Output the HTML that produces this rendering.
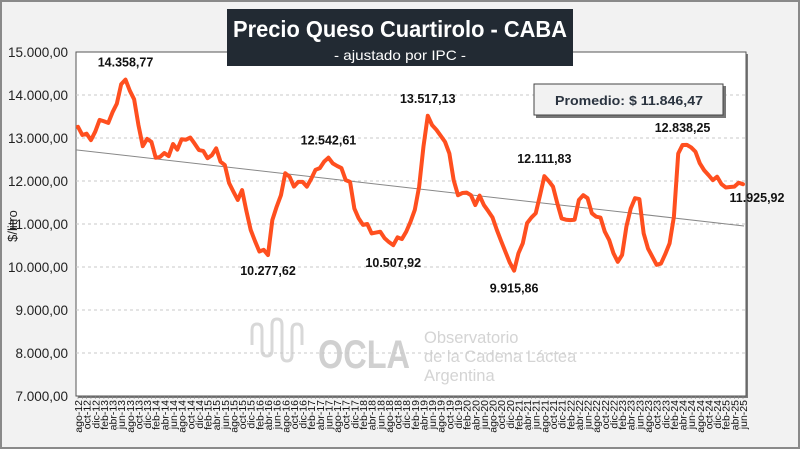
<!DOCTYPE html>
<html><head><meta charset="utf-8"><style>
html,body{margin:0;padding:0;}
body{width:800px;height:449px;overflow:hidden;background:#f2f2f2;font-family:"Liberation Sans",sans-serif;}
#wrap{position:relative;width:796px;height:445px;border:2px solid #8a8a8a;background:#f2f2f2;}
</style></head><body>
<div id="wrap">
<svg id="chart" width="800" height="449" style="position:absolute;left:-2px;top:-2px"></svg>
</div>
<script>
const months=['ene','feb','mar','abr','may','jun','jul','ago','sep','oct','nov','dic'];
const prices=[13260,13070,13100,12950,13150,13420,13390,13350,13600,13800,14250,14358.77,14100,13900,13300,12810,12980,12910,12540,12560,12650,12580,12860,12730,12970,12960,13010,12870,12720,12700,12530,12600,12760,12450,12370,11950,11750,11560,11790,11300,10860,10600,10360,10400,10277.62,11090,11400,11670,12180,12100,11870,11980,11980,11870,12050,12260,12300,12450,12542.61,12410,12350,12300,12020,11980,11360,11130,10980,11000,10780,10800,10820,10670,10580,10507.92,10690,10650,10820,11050,11330,11870,12800,13517.13,13300,13190,13050,12910,12640,12020,11670,11720,11730,11670,11440,11660,11440,11300,11150,10860,10600,10350,10100,9915.86,10320,10550,11020,11150,11250,11670,12111.83,12000,11870,11480,11130,11100,11090,11100,11560,11670,11600,11250,11170,11150,10820,10630,10320,10120,10280,10940,11360,11600,11580,10780,10430,10240,10050,10080,10300,10550,11170,12640,12838.25,12840,12780,12680,12410,12250,12140,12020,12100,11930,11850,11860,11870,11960,11925.92];
const yTicks=[7000,8000,9000,10000,11000,12000,13000,14000,15000];
const annoIdx=[11,44,58,73,81,101,108,140,154];
const annoText=['14.358,77','10.277,62','12.542,61','10.507,92','13.517,13','9.915,86','12.111,83','12.838,25','11.925,92'];
const annoDy=[-13,20,-13,22,-13,22,-13,-13,18];
const annoDx=[0,0,0,0,0,0,0,0,14];
const average='Promedio: $ 11.846,47';

const NS='http://www.w3.org/2000/svg';
const svg=document.getElementById('chart');
function el(t,a,p){const e=document.createElementNS(NS,t);for(const k in a)e.setAttribute(k,a[k]);(p||svg).appendChild(e);return e;}
const L=76,R=746,T=52,B=396,X0=78,X1=743;
const yS=v=>B-(v-7000)/8000*(B-T);
const xS=i=>X0+(X1-X0)*i/(prices.length-1);

const pa=el('rect',{x:L+2,y:T+2,width:R-L,height:B-T,fill:'#7a7a7a'});

const pb=el('rect',{x:L,y:T,width:R-L,height:B-T,fill:'#fff',stroke:'#555','stroke-width':1});


const wm=el('g',{fill:'#d4d4d4'});

el('path',{d:'M252 345 v-15 q0-6 5-6 t5 6 v20 q0 6 5 6 t5-6 v-25 q0-6 5-6 t5 6 v30 q0 6 5 6 t5-6 v-25 q0-6 5-6 t5 6 v15',fill:'none',stroke:'#d8d8d8','stroke-width':3},wm);
const t1=el('text',{x:318,y:368,'font-size':40,'font-weight':'bold',fill:'#d0d0d0',textLength:92,lengthAdjust:'spacingAndGlyphs'},wm);t1.textContent='OCLA';
[['Observatorio',343],['de la Cadena Láctea',362],['Argentina',381]].forEach(([s,y])=>{const t=el('text',{x:424,y:y,'font-size':16.5,fill:'#d4d4d4'},wm);t.textContent=s;});

yTicks.forEach(v=>{
  const y=yS(v);
  if(v>7000&&v<15000){const g=el('line',{x1:L,x2:R,y1:y,y2:y,stroke:'#c8c8c8','stroke-dasharray':'3,3'});
  }
  const t=el('text',{x:68,y:y+5,'text-anchor':'end','font-size':13.5,fill:'#222'});
  
  t.textContent=v.toLocaleString('de-DE')+',00';
});
const yt=el('text',{x:0,y:0,transform:'translate(17,226) rotate(-90)','text-anchor':'middle','font-size':13,fill:'#222'});
yt.textContent='$/litro';

for(let i=0;i<prices.length;i++){
  const x=xS(i);
  el('line',{x1:x,x2:x,y1:B,y2:B+3,stroke:'#888','stroke-width':0.6});
  if(i%2===0){
    const mi=(7+i)%12, yr=12+Math.floor((7+i)/12);
    const t=el('text',{x:0,y:0,transform:`translate(${x+4},${B+4}) rotate(-90)`,'text-anchor':'end','font-size':10.5,fill:'#111'});
    
    t.textContent=months[mi]+'-'+yr;
  }
}

const n=prices.length;let sx=0,sy=0,sxx=0,sxy=0;
prices.forEach((v,i)=>{sx+=i;sy+=v;sxx+=i*i;sxy+=i*v;});
const b=(n*sxy-sx*sy)/(n*sxx-sx*sx),a=(sy-b*sx)/n;
const tl=el('line',{x1:L,y1:yS(a+b*((L-X0)/(X1-X0)*(n-1))),x2:R-2,y2:yS(a+b*((R-2-X0)/(X1-X0)*(n-1))),stroke:'#888','stroke-width':1});


const line=el('polyline',{points:prices.map((v,i)=>xS(i)+','+yS(v)).join(' '),fill:'none',stroke:'#ff4f1f','stroke-width':4,'stroke-linejoin':'round','stroke-linecap':'round'});


annoIdx.forEach((idx,k)=>{
  const t=el('text',{x:xS(idx)+annoDx[k],y:yS(prices[idx])+annoDy[k],'text-anchor':'middle','font-size':12.5,'font-weight':'bold',fill:'#111'});
  
  t.textContent=annoText[k];
});

const tb=el('rect',{x:227,y:9,width:346,height:57,fill:'#222a33'});

const tt=el('text',{x:233,y:37,'font-size':23,'font-weight':'bold',fill:'#fff',textLength:334,lengthAdjust:'spacingAndGlyphs'});
tt.textContent='Precio Queso Cuartirolo - CABA';
const st=el('text',{x:334,y:60,'font-size':14,fill:'#fff',textLength:132,lengthAdjust:'spacingAndGlyphs'});
st.textContent='- ajustado por IPC -';

el('rect',{x:536,y:86,width:190,height:32,fill:'#777'});
const ab=el('rect',{x:534,y:84,width:189,height:31,fill:'#f2f2f2',stroke:'#444','stroke-width':1});

const at=el('text',{x:555,y:105,'font-size':13,'font-weight':'bold',fill:'#2b3440',textLength:148,lengthAdjust:'spacingAndGlyphs'});
at.textContent=average;
</script>
</body></html>
